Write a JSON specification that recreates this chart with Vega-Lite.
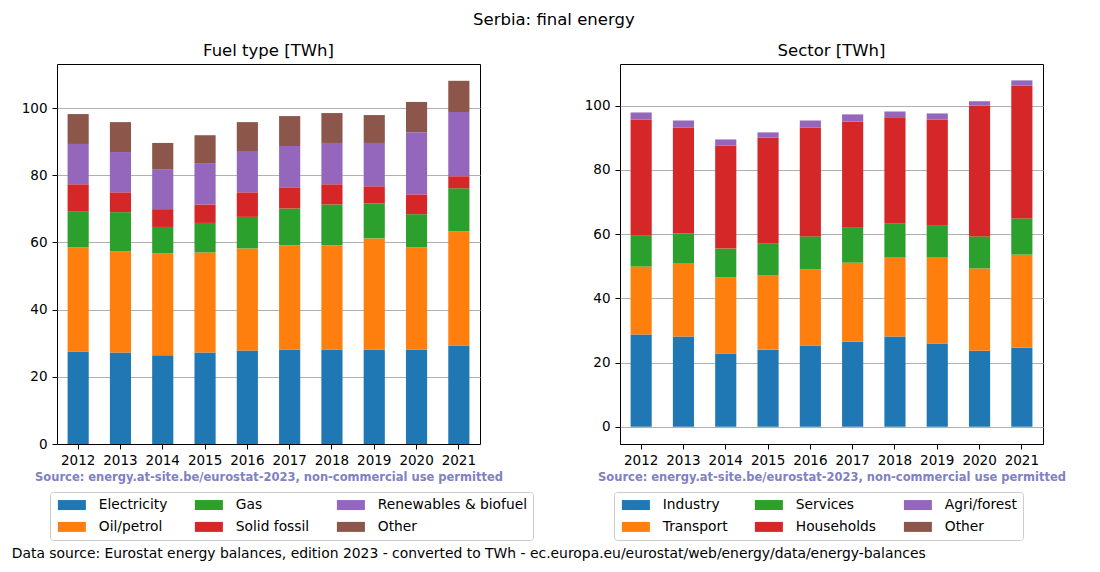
{
  "$schema": "https://vega.github.io/schema/vega-lite/v6.json",
  "padding": {"left": 11, "top": 11, "right": 5, "bottom": 5},
  "title": {"text": "Serbia: final energy", "fontSize": 16.5, "fontWeight": "normal", "anchor": "middle", "offset": 14, "dx": 15, "color": "black"},
  "datasets": {
    "fuel": [
      {"year": "2012", "cat": "Electricity", "v": 27.5, "k": 1}, {"year": "2012", "cat": "Oil/petrol", "v": 31.0, "k": 2}, {"year": "2012", "cat": "Gas", "v": 10.8, "k": 3}, {"year": "2012", "cat": "Solid fossil", "v": 8.0, "k": 4}, {"year": "2012", "cat": "Renewables & biofuel", "v": 12.0, "k": 5}, {"year": "2012", "cat": "Other", "v": 8.9, "k": 6},
      {"year": "2013", "cat": "Electricity", "v": 27.2, "k": 1}, {"year": "2013", "cat": "Oil/petrol", "v": 30.1, "k": 2}, {"year": "2013", "cat": "Gas", "v": 11.7, "k": 3}, {"year": "2013", "cat": "Solid fossil", "v": 5.9, "k": 4}, {"year": "2013", "cat": "Renewables & biofuel", "v": 12.0, "k": 5}, {"year": "2013", "cat": "Other", "v": 8.9, "k": 6},
      {"year": "2014", "cat": "Electricity", "v": 26.4, "k": 1}, {"year": "2014", "cat": "Oil/petrol", "v": 30.3, "k": 2}, {"year": "2014", "cat": "Gas", "v": 7.9, "k": 3}, {"year": "2014", "cat": "Solid fossil", "v": 5.3, "k": 4}, {"year": "2014", "cat": "Renewables & biofuel", "v": 11.9, "k": 5}, {"year": "2014", "cat": "Other", "v": 7.8, "k": 6},
      {"year": "2015", "cat": "Electricity", "v": 27.2, "k": 1}, {"year": "2015", "cat": "Oil/petrol", "v": 29.8, "k": 2}, {"year": "2015", "cat": "Gas", "v": 8.8, "k": 3}, {"year": "2015", "cat": "Solid fossil", "v": 5.5, "k": 4}, {"year": "2015", "cat": "Renewables & biofuel", "v": 12.3, "k": 5}, {"year": "2015", "cat": "Other", "v": 8.3, "k": 6},
      {"year": "2016", "cat": "Electricity", "v": 27.8, "k": 1}, {"year": "2016", "cat": "Oil/petrol", "v": 30.4, "k": 2}, {"year": "2016", "cat": "Gas", "v": 9.4, "k": 3}, {"year": "2016", "cat": "Solid fossil", "v": 7.3, "k": 4}, {"year": "2016", "cat": "Renewables & biofuel", "v": 12.3, "k": 5}, {"year": "2016", "cat": "Other", "v": 8.6, "k": 6},
      {"year": "2017", "cat": "Electricity", "v": 28.1, "k": 1}, {"year": "2017", "cat": "Oil/petrol", "v": 31.0, "k": 2}, {"year": "2017", "cat": "Gas", "v": 11.0, "k": 3}, {"year": "2017", "cat": "Solid fossil", "v": 6.3, "k": 4}, {"year": "2017", "cat": "Renewables & biofuel", "v": 12.3, "k": 5}, {"year": "2017", "cat": "Other", "v": 8.9, "k": 6},
      {"year": "2018", "cat": "Electricity", "v": 28.1, "k": 1}, {"year": "2018", "cat": "Oil/petrol", "v": 31.0, "k": 2}, {"year": "2018", "cat": "Gas", "v": 12.2, "k": 3}, {"year": "2018", "cat": "Solid fossil", "v": 6.0, "k": 4}, {"year": "2018", "cat": "Renewables & biofuel", "v": 12.3, "k": 5}, {"year": "2018", "cat": "Other", "v": 8.9, "k": 6},
      {"year": "2019", "cat": "Electricity", "v": 28.1, "k": 1}, {"year": "2019", "cat": "Oil/petrol", "v": 33.1, "k": 2}, {"year": "2019", "cat": "Gas", "v": 10.4, "k": 3}, {"year": "2019", "cat": "Solid fossil", "v": 5.1, "k": 4}, {"year": "2019", "cat": "Renewables & biofuel", "v": 12.9, "k": 5}, {"year": "2019", "cat": "Other", "v": 8.3, "k": 6},
      {"year": "2020", "cat": "Electricity", "v": 28.1, "k": 1}, {"year": "2020", "cat": "Oil/petrol", "v": 30.4, "k": 2}, {"year": "2020", "cat": "Gas", "v": 9.9, "k": 3}, {"year": "2020", "cat": "Solid fossil", "v": 5.9, "k": 4}, {"year": "2020", "cat": "Renewables & biofuel", "v": 18.5, "k": 5}, {"year": "2020", "cat": "Other", "v": 9.0, "k": 6},
      {"year": "2021", "cat": "Electricity", "v": 29.3, "k": 1}, {"year": "2021", "cat": "Oil/petrol", "v": 34.0, "k": 2}, {"year": "2021", "cat": "Gas", "v": 12.8, "k": 3}, {"year": "2021", "cat": "Solid fossil", "v": 3.6, "k": 4}, {"year": "2021", "cat": "Renewables & biofuel", "v": 19.1, "k": 5}, {"year": "2021", "cat": "Other", "v": 9.3, "k": 6}
    ],
    "sector": [
      {"year": "2012", "cat": "Industry", "v": 28.7, "k": 1}, {"year": "2012", "cat": "Transport", "v": 21.2, "k": 2}, {"year": "2012", "cat": "Services", "v": 9.8, "k": 3}, {"year": "2012", "cat": "Households", "v": 36.0, "k": 4}, {"year": "2012", "cat": "Agri/forest", "v": 2.2, "k": 5},
      {"year": "2013", "cat": "Industry", "v": 28.1, "k": 1}, {"year": "2013", "cat": "Transport", "v": 22.7, "k": 2}, {"year": "2013", "cat": "Services", "v": 9.4, "k": 3}, {"year": "2013", "cat": "Households", "v": 33.0, "k": 4}, {"year": "2013", "cat": "Agri/forest", "v": 2.2, "k": 5},
      {"year": "2014", "cat": "Industry", "v": 22.8, "k": 1}, {"year": "2014", "cat": "Transport", "v": 23.7, "k": 2}, {"year": "2014", "cat": "Services", "v": 9.0, "k": 3}, {"year": "2014", "cat": "Households", "v": 32.1, "k": 4}, {"year": "2014", "cat": "Agri/forest", "v": 1.9, "k": 5},
      {"year": "2015", "cat": "Industry", "v": 24.0, "k": 1}, {"year": "2015", "cat": "Transport", "v": 23.1, "k": 2}, {"year": "2015", "cat": "Services", "v": 10.1, "k": 3}, {"year": "2015", "cat": "Households", "v": 32.9, "k": 4}, {"year": "2015", "cat": "Agri/forest", "v": 1.6, "k": 5},
      {"year": "2016", "cat": "Industry", "v": 25.3, "k": 1}, {"year": "2016", "cat": "Transport", "v": 23.7, "k": 2}, {"year": "2016", "cat": "Services", "v": 10.3, "k": 3}, {"year": "2016", "cat": "Households", "v": 33.9, "k": 4}, {"year": "2016", "cat": "Agri/forest", "v": 2.2, "k": 5},
      {"year": "2017", "cat": "Industry", "v": 26.5, "k": 1}, {"year": "2017", "cat": "Transport", "v": 24.6, "k": 2}, {"year": "2017", "cat": "Services", "v": 11.1, "k": 3}, {"year": "2017", "cat": "Households", "v": 32.9, "k": 4}, {"year": "2017", "cat": "Agri/forest", "v": 2.2, "k": 5},
      {"year": "2018", "cat": "Industry", "v": 28.1, "k": 1}, {"year": "2018", "cat": "Transport", "v": 24.6, "k": 2}, {"year": "2018", "cat": "Services", "v": 10.7, "k": 3}, {"year": "2018", "cat": "Households", "v": 33.0, "k": 4}, {"year": "2018", "cat": "Agri/forest", "v": 1.8, "k": 5},
      {"year": "2019", "cat": "Industry", "v": 25.9, "k": 1}, {"year": "2019", "cat": "Transport", "v": 26.8, "k": 2}, {"year": "2019", "cat": "Services", "v": 10.1, "k": 3}, {"year": "2019", "cat": "Households", "v": 32.9, "k": 4}, {"year": "2019", "cat": "Agri/forest", "v": 1.9, "k": 5},
      {"year": "2020", "cat": "Industry", "v": 23.7, "k": 1}, {"year": "2020", "cat": "Transport", "v": 25.6, "k": 2}, {"year": "2020", "cat": "Services", "v": 10.0, "k": 3}, {"year": "2020", "cat": "Households", "v": 40.7, "k": 4}, {"year": "2020", "cat": "Agri/forest", "v": 1.4, "k": 5},
      {"year": "2021", "cat": "Industry", "v": 24.6, "k": 1}, {"year": "2021", "cat": "Transport", "v": 29.0, "k": 2}, {"year": "2021", "cat": "Services", "v": 11.3, "k": 3}, {"year": "2021", "cat": "Households", "v": 41.4, "k": 4}, {"year": "2021", "cat": "Agri/forest", "v": 1.6, "k": 5}
    ]
  },
  "vconcat": [
    {
      "title": {"text": "Data source: Eurostat energy balances, edition 2023 - converted to TWh - ec.europa.eu/eurostat/web/energy/data/energy-balances", "orient": "bottom", "anchor": "start", "fontSize": 13.9, "fontWeight": "normal", "color": "black", "offset": 6, "dx": -9},
      "bounds": "flush",
      "spacing": 140,
      "resolve": {"scale": {"color": "independent", "y": "independent", "x": "independent"}, "legend": {"color": "independent"}},
      "hconcat": [
        {
          "width": 423,
          "height": 380,
          "title": {"text": "Fuel type [TWh]", "fontSize": 16.5, "fontWeight": "normal", "color": "black", "offset": 5},
          "data": {"name": "fuel"},
          "mark": {"type": "bar"},
          "encoding": {
            "x": {"field": "year", "type": "ordinal", "scale": {"paddingInner": 0.5, "paddingOuter": 0.25},
                  "axis": {"title": "Source: energy.at-site.be/eurostat-2023, non-commercial use permitted", "labelAngle": 0, "grid": false}},
            "y": {"field": "v", "type": "quantitative", "stack": "zero", "scale": {"domain": [0, 113.1], "nice": false, "zero": false},
                  "axis": {"title": null, "values": [0, 20, 40, 60, 80, 100], "grid": true, "domain": false}},
            "color": {"field": "cat", "type": "nominal",
                      "scale": {"domain": ["Electricity", "Oil/petrol", "Gas", "Solid fossil", "Renewables & biofuel", "Other"],
                                "range": ["#1f77b4", "#ff7f0e", "#2ca02c", "#d62728", "#9467bd", "#8c564b"]},
                      "legend": {"legendX": -7, "legendY": 428}},
            "order": {"field": "k", "type": "quantitative"}
          }
        },
        {
          "width": 423,
          "height": 380,
          "title": {"text": "Sector [TWh]", "fontSize": 16.5, "fontWeight": "normal", "color": "black", "offset": 5},
          "data": {"name": "sector"},
          "mark": {"type": "bar"},
          "encoding": {
            "x": {"field": "year", "type": "ordinal", "scale": {"paddingInner": 0.5, "paddingOuter": 0.25},
                  "axis": {"title": "Source: energy.at-site.be/eurostat-2023, non-commercial use permitted", "labelAngle": 0, "grid": false}},
            "y": {"field": "v", "type": "quantitative", "stack": "zero", "scale": {"domain": [-5.38, 113.0], "nice": false, "zero": false},
                  "axis": {"title": null, "values": [0, 20, 40, 60, 80, 100], "grid": true, "domain": false}},
            "color": {"field": "cat", "type": "nominal",
                      "scale": {"domain": ["Industry", "Transport", "Services", "Households", "Agri/forest", "Other"],
                                "range": ["#1f77b4", "#ff7f0e", "#2ca02c", "#d62728", "#9467bd", "#8c564b"]},
                      "legend": {"legendX": -6, "legendY": 428}},
            "order": {"field": "k", "type": "quantitative"}
          }
        }
      ]
    }
  ],
  "config": {
    "font": "DejaVu Sans",
    "view": {"stroke": "black", "strokeWidth": 1},
    "title": {"font": "DejaVu Sans", "color": "black"},
    "axis": {"labelFont": "DejaVu Sans", "labelFontSize": 13.5, "labelColor": "black", "tickColor": "black", "domainColor": "black", "tickSize": 5, "gridColor": "#b0b0b0", "gridWidth": 1,
             "titleFont": "DejaVu Sans", "titleFontSize": 11.5, "titleFontWeight": "bold", "titleColor": "#8080c4", "titlePadding": 5},
    "axisX": {"labelPadding": 4},
    "axisY": {"labelPadding": 5},
    "legend": {"orient": "none", "columns": 3, "title": null, "labelFont": "DejaVu Sans", "labelFontSize": 13.8, "labelColor": "black",
               "symbolType": "M-2.8,-1H2.8V1H-2.8Z", "symbolSize": 100, "symbolStrokeWidth": 0, "symbolOffset": 9, "labelOffset": 20,
               "columnPadding": 25, "rowPadding": 7, "padding": 6, "strokeColor": "#cccccc", "cornerRadius": 3, "fillColor": "white", "symbolOpacity": 1}
  }
}
